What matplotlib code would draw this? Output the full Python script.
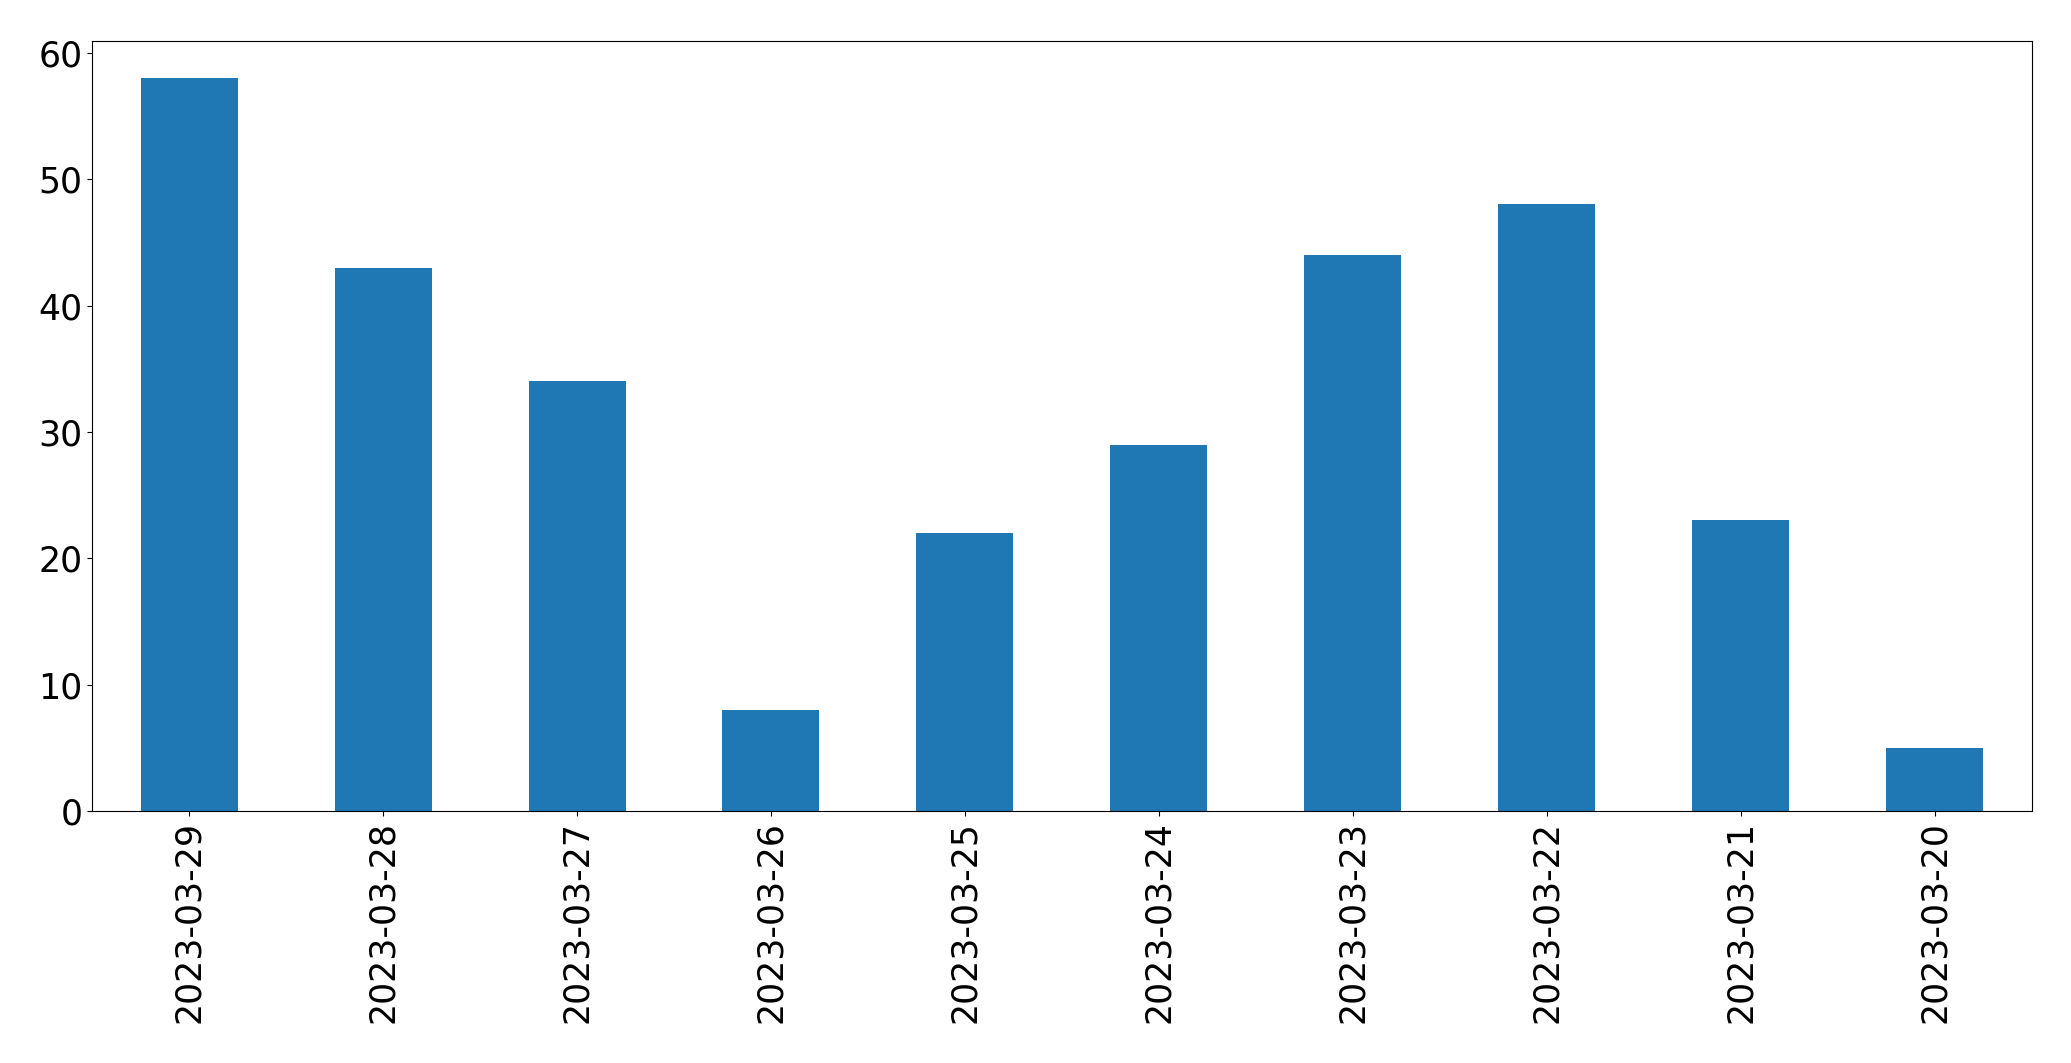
import matplotlib
matplotlib.use("Agg")
import matplotlib.pyplot as plt
import pandas as pd

dates = ["2023-03-29", "2023-03-28", "2023-03-27", "2023-03-26", "2023-03-25",
         "2023-03-24", "2023-03-23", "2023-03-22", "2023-03-21", "2023-03-20"]
counts = [58, 43, 34, 8, 22, 29, 44, 48, 23, 5]

s = pd.Series(counts, index=dates)
fig, ax = plt.subplots(figsize=(20.71, 10.63), dpi=100)
s.plot(kind="bar", ax=ax, color="#1f77b4", fontsize=25)
ax.tick_params(axis="both", labelsize=25)
fig.subplots_adjust(left=0.0445, right=0.981, top=0.961, bottom=0.237)
fig.savefig("out.png", dpi=100)
